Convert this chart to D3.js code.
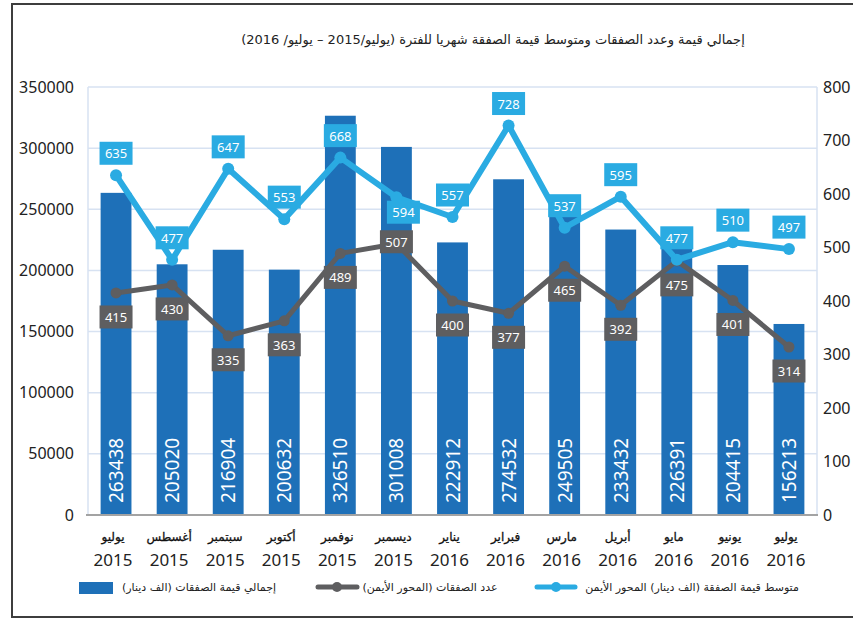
<!DOCTYPE html>
<html>
<head>
<meta charset="utf-8">
<script src="https://cdn.jsdelivr.net/npm/d3@7"></script>
<style>
  body { margin: 0; background: #fff; }
  svg text { font-family: "Noto Sans", "DejaVu Sans", sans-serif; }
  .ar { font-family: "DejaVu Sans", sans-serif; }
</style>
</head>
<body>
<div id="chart"></div>
<script>
var months = ["يوليو", "أغسطس", "سبتمبر", "أكتوبر", "نوفمبر", "ديسمبر", "يناير", "فبراير", "مارس", "أبريل", "مايو", "يونيو", "يوليو"];
var years = ["2015", "2015", "2015", "2015", "2015", "2015", "2016", "2016", "2016", "2016", "2016", "2016", "2016"];
var totalValue = [263438, 205020, 216904, 200632, 326510, 301008, 222912, 274532, 249505, 233432, 226391, 204415, 156213];
var dealCount = [415, 430, 335, 363, 489, 507, 400, 377, 465, 392, 475, 401, 314];
var avgValue = [635, 477, 647, 553, 668, 594, 557, 728, 537, 595, 477, 510, 497];
var leftTicks = [0, 50000, 100000, 150000, 200000, 250000, 300000, 350000];
var rightTicks = [0, 100, 200, 300, 400, 500, 600, 700, 800];

var title = "إجمالي قيمة وعدد الصفقات ومتوسط قيمة الصفقة شهريا للفترة (يوليو/2015 – يوليو/ 2016)";
var legendBars = "إجمالي قيمة الصفقات (الف دينار)";
var legendCount = "عدد الصفقات (المحور الأيمن)";
var legendAvg = "متوسط قيمة الصفقة (الف دينار) المحور الأيمن";

function drawChart() {
    var w = 853;
    var h = 621;
    var left = 88, right = 817, top = 87, bottom = 515;

    var barColor = "#1e70b8";
    var avgColor = "#2aabe2";
    var countColor = "#5e5e60";
    var gridColor = "#d7e2f2";

    var svg = d3.select("#chart")
                .append("svg")
                .attr("width", w)
                .attr("height", h);

    // outer frame
    svg.append("rect")
        .attr("x", 12).attr("y", 4)
        .attr("width", 860).attr("height", 613)
        .attr("fill", "none")
        .attr("stroke", "#3d3d3d")
        .attr("stroke-width", 2);

    svg.append("text")
        .attr("class", "ar")
        .attr("x", 493).attr("y", 44)
        .attr("direction", "rtl")
        .attr("text-anchor", "middle")
        .style("font-size", "13px")
        .style("fill", "#222")
        .text(title);

    var x = d3.scaleBand()
                .domain(d3.range(months.length))
                .range([left, right])
                .paddingInner(0.45)
                .paddingOuter(0.225);

    var yLeft = d3.scaleLinear().domain([0, 350000]).range([bottom, top]);
    var yRight = d3.scaleLinear().domain([0, 800]).range([bottom, top]);

    // grid lines
    svg.append("g")
        .selectAll("line")
        .data(leftTicks.slice(1))
        .enter()
        .append("line")
        .attr("x1", left).attr("x2", right)
        .attr("y1", function(d){ return yLeft(d); })
        .attr("y2", function(d){ return yLeft(d); })
        .attr("stroke", gridColor)
        .attr("stroke-width", 1.5);

    svg.append("line")
        .attr("x1", left).attr("x2", left)
        .attr("y1", top).attr("y2", bottom)
        .attr("stroke", gridColor).attr("stroke-width", 1.5);
    svg.append("line")
        .attr("x1", right).attr("x2", right)
        .attr("y1", top).attr("y2", bottom)
        .attr("stroke", gridColor).attr("stroke-width", 1.5);

    // left axis
    var axL = svg.append("g")
        .attr("transform", "translate(74,0)")
        .call(d3.axisLeft(yLeft).tickValues(leftTicks).tickSize(0).tickPadding(0).tickFormat(d3.format("d")));
    axL.select(".domain").remove();
    axL.selectAll("text")
        .attr("text-anchor", "end")
        .style("font-size", "16px")
        .style("fill", "#222")
        .style("font-family", "'Noto Sans', sans-serif");

    // right axis
    var axR = svg.append("g")
        .attr("transform", "translate(823,0)")
        .call(d3.axisRight(yRight).tickValues(rightTicks).tickSize(0).tickPadding(0));
    axR.select(".domain").remove();
    axR.selectAll("text")
        .style("font-size", "16px")
        .style("fill", "#222")
        .style("font-family", "'Noto Sans', sans-serif");

    // bars
    var bars = svg.append("g")
        .selectAll("g.bar")
        .data(totalValue)
        .enter()
        .append("g")
        .attr("class", "bar");

    bars.append("rect")
        .attr("x", function(d, i){ return x(i); })
        .attr("y", function(d){ return yLeft(d); })
        .attr("width", x.bandwidth())
        .attr("height", function(d){ return bottom - yLeft(d); })
        .attr("fill", barColor);

    bars.append("text")
        .text(function(d){ return d; })
        .attr("transform", function(d, i){
            return "translate(" + (x(i) + x.bandwidth() / 2 + 7) + ",503) rotate(-90)";
        })
        .attr("text-anchor", "start")
        .style("font-size", "19px")
        .style("fill", "white");

    // x axis line
    svg.append("line")
        .attr("x1", left - 2).attr("x2", right + 1)
        .attr("y1", bottom).attr("y2", bottom)
        .attr("stroke", "#a3a3a3").attr("stroke-width", 2);

    // x labels
    var xl = svg.append("g")
        .selectAll("g.xl")
        .data(months)
        .enter()
        .append("g")
        .attr("transform", function(d, i){ return "translate(" + (x(i) + x.bandwidth() / 2 - 3) + ",0)"; });

    xl.append("text")
        .attr("class", "ar")
        .attr("y", 541)
        .attr("text-anchor", "middle")
        .attr("direction", "rtl")
        .style("font-size", "12px")
        .style("fill", "#111")
        .style("stroke", "#111")
        .style("stroke-width", 0.3)
        .text(function(d){ return d; });

    xl.append("text")
        .attr("y", 566)
        .attr("text-anchor", "middle")
        .style("font-size", "17px")
        .style("fill", "#222")
        .text(function(d, i){ return years[i]; });

    var cx = function(d, i){ return x(i) + x.bandwidth() / 2; };

    // count line (right axis)
    var valueLine = d3.line()
        .x(cx)
        .y(function(d){ return yRight(d); });

    svg.append("path")
        .datum(dealCount)
        .attr("d", valueLine)
        .attr("fill", "none")
        .attr("stroke", countColor)
        .attr("stroke-width", 5)
        .attr("stroke-linejoin", "round");

    svg.append("g")
        .selectAll("circle")
        .data(dealCount)
        .enter()
        .append("circle")
        .attr("cx", cx)
        .attr("cy", function(d){ return yRight(d); })
        .attr("r", 5.5)
        .attr("fill", countColor);

    // average line (right axis)
    svg.append("path")
        .datum(avgValue)
        .attr("d", valueLine)
        .attr("fill", "none")
        .attr("stroke", avgColor)
        .attr("stroke-width", 6)
        .attr("stroke-linejoin", "round");

    svg.append("g")
        .selectAll("circle")
        .data(avgValue)
        .enter()
        .append("circle")
        .attr("cx", cx)
        .attr("cy", function(d){ return yRight(d); })
        .attr("r", 6)
        .attr("fill", avgColor);

    // value labels in boxes
    function boxLabels(data, color, off) {
        var g = svg.append("g")
            .selectAll("g")
            .data(data)
            .enter()
            .append("g")
            .attr("transform", function(d, i){
                return "translate(" + (cx(d, i) + off(i)[0]) + "," + (yRight(d) + off(i)[1]) + ")";
            });
        g.append("rect")
            .attr("x", -16.5).attr("y", -11.5)
            .attr("width", 33).attr("height", 23)
            .attr("fill", color);
        g.append("text")
            .attr("y", 5)
            .attr("text-anchor", "middle")
            .style("font-size", "13px")
            .style("fill", "white")
            .text(function(d){ return d; });
    }

    boxLabels(dealCount, countColor, function(i){
        return i == 5 ? [0, -2] : [0, 24];
    });
    boxLabels(avgValue, avgColor, function(i){
        return i == 5 ? [7, 15] : [0, -22];
    });

    // legend
    var lg = svg.append("g");
    lg.append("rect")
        .attr("x", 79).attr("y", 582)
        .attr("width", 34).attr("height", 12)
        .attr("fill", barColor);
    lg.append("text")
        .attr("class", "ar")
        .attr("x", 199).attr("y", 591)
        .attr("direction", "rtl")
        .attr("text-anchor", "middle")
        .style("font-size", "11px")
        .style("fill", "#222")
        .text(legendBars);

    lg.append("line")
        .attr("x1", 318).attr("x2", 357)
        .attr("y1", 587).attr("y2", 587)
        .attr("stroke", countColor).attr("stroke-width", 5)
        .attr("stroke-linecap", "round");
    lg.append("circle")
        .attr("cx", 337).attr("cy", 587).attr("r", 5)
        .attr("fill", countColor);
    lg.append("text")
        .attr("class", "ar")
        .attr("x", 430).attr("y", 591)
        .attr("direction", "rtl")
        .attr("text-anchor", "middle")
        .style("font-size", "11px")
        .style("fill", "#222")
        .text(legendCount);

    lg.append("line")
        .attr("x1", 537).attr("x2", 575)
        .attr("y1", 587).attr("y2", 587)
        .attr("stroke", avgColor).attr("stroke-width", 5)
        .attr("stroke-linecap", "round");
    lg.append("circle")
        .attr("cx", 556).attr("cy", 587).attr("r", 5)
        .attr("fill", avgColor);
    lg.append("text")
        .attr("class", "ar")
        .attr("x", 692).attr("y", 591)
        .attr("direction", "rtl")
        .attr("text-anchor", "middle")
        .style("font-size", "11px")
        .style("fill", "#222")
        .text(legendAvg);
}

window.onload = drawChart;
</script>
</body>
</html>
